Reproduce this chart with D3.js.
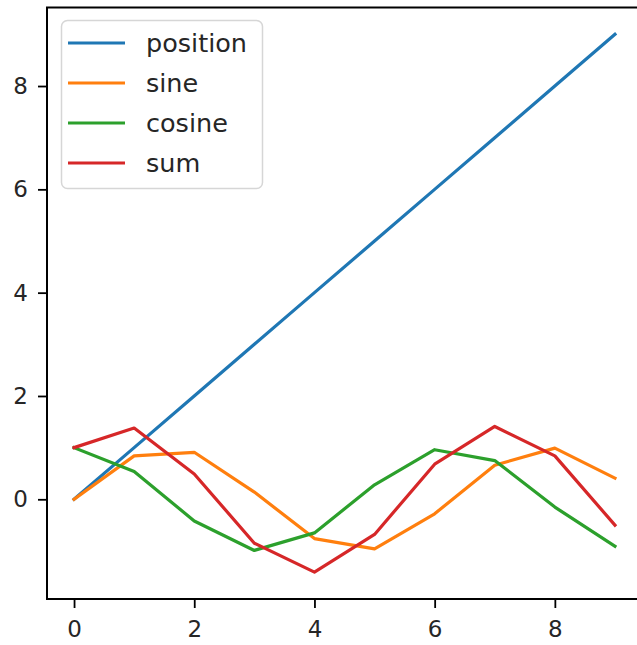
<!DOCTYPE html>
<html>
<head>
<meta charset="utf-8">
<script src="https://cdn.jsdelivr.net/npm/d3@7"></script>
<style>
html,body{margin:0;padding:0;background:#fff;overflow:hidden}
svg{display:block}
text{font-family:"DejaVu Sans",sans-serif;fill:#262626}
</style>
</head>
<body>
<svg id="chart" width="637" height="645"></svg>
<script>
const xValues = [0, 1, 2, 3, 4, 5, 6, 7, 8, 9];
const positionValues = [0, 1, 2, 3, 4, 5, 6, 7, 8, 9];
const sineValues = [0, 0.84, 0.91, 0.14, -0.76, -0.96, -0.28, 0.66, 0.99, 0.41];
const cosineValues = [1, 0.54, -0.42, -0.99, -0.65, 0.28, 0.96, 0.75, -0.15, -0.91];
const sumValues = [1, 1.38, 0.49, -0.85, -1.41, -0.68, 0.68, 1.41, 0.84, -0.50];
const seriesNames = ["position", "sine", "cosine", "sum"];
const seriesColors = ["#1f77b4", "#ff7f0e", "#2ca02c", "#d62728"];
const xTicks = [0, 2, 4, 6, 8];
const yTicks = [0, 2, 4, 6, 8];

const seriesData = [positionValues, sineValues, cosineValues, sumValues];

const svg = d3.select("#chart");
const pL = 47, pR = 642, pT = 7.5, pB = 599;
const x = d3.scaleLinear().domain([-0.45, 9.45]).range([pL, pR]);
const y = d3.scaleLinear().domain([-1.93, 9.52]).range([pB, pT]);

const lw = 3.2;
const fontSize = 23;

// lines
const line = d3.line().x((d, i) => x(xValues[i])).y(d => y(d));
seriesData.forEach((vals, k) => {
  svg.append("path").datum(vals)
    .attr("d", line)
    .attr("fill", "none")
    .attr("stroke", seriesColors[k])
    .attr("stroke-width", lw)
    .attr("stroke-linejoin", "round")
    .attr("stroke-linecap", "square");
});

// axes
const xAxis = d3.axisBottom(x).tickValues(xTicks).tickSize(9).tickPadding(13).tickFormat(d3.format("d"));
const yAxis = d3.axisLeft(y).tickValues(yTicks).tickSize(9).tickPadding(10).tickFormat(d3.format("d"));
const gx = svg.append("g").attr("transform", `translate(0,${pB})`).call(xAxis);
const gy = svg.append("g").attr("transform", `translate(${pL},0)`).call(yAxis);
[gx, gy].forEach(g => {
  g.select(".domain").remove();
  g.selectAll(".tick line").attr("stroke", "#000").attr("stroke-width", 1.8);
  g.selectAll(".tick text").attr("font-size", fontSize).attr("fill", "#262626")
    .style("font-family", "'DejaVu Sans', sans-serif");
});

// spines
svg.append("line").attr("x1", pL).attr("x2", pL).attr("y1", pT).attr("y2", pB)
  .attr("stroke", "#000").attr("stroke-width", 2);
svg.append("line").attr("x1", pL - 1).attr("x2", pR + 1).attr("y1", pB).attr("y2", pB)
  .attr("stroke", "#000").attr("stroke-width", 2);
svg.append("line").attr("x1", pL - 1).attr("x2", pR + 1).attr("y1", pT).attr("y2", pT)
  .attr("stroke", "#000").attr("stroke-width", 2);

// legend
const lg = svg.append("g");
lg.append("rect").attr("x", 61.5).attr("y", 20.5).attr("width", 201).attr("height", 168)
  .attr("rx", 6).attr("ry", 6)
  .attr("fill", "#fff").attr("fill-opacity", 0.8)
  .attr("stroke", "#d6d6d6").attr("stroke-width", 1.5);
seriesNames.forEach((name, k) => {
  const cy = 43 + k * 40;
  lg.append("line").attr("x1", 68).attr("x2", 125).attr("y1", cy).attr("y2", cy)
    .attr("stroke", seriesColors[k]).attr("stroke-width", lw);
  lg.append("text").attr("x", 146).attr("y", cy + 9).attr("font-size", 25.5)
    .text(name);
});
</script>
</body>
</html>
